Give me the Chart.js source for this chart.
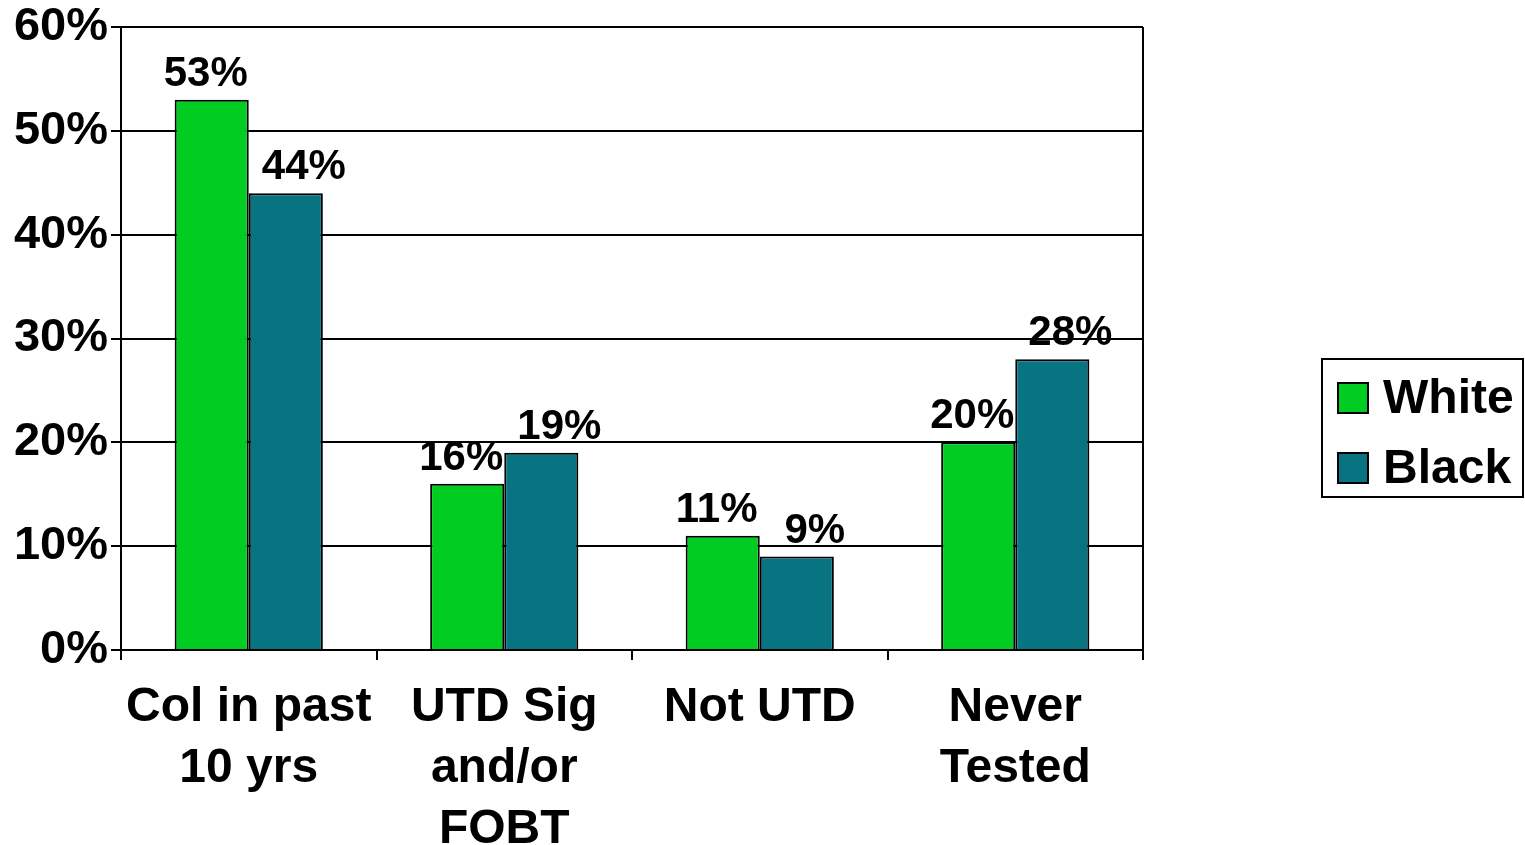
<!DOCTYPE html>
<html>
<head>
<meta charset="utf-8">
<script src="https://cdn.jsdelivr.net/npm/chart.js@4"></script>
<style>
  body { margin: 0; background: #fff; }
  canvas { display: block; }
</style>
</head>
<body>
<canvas id="myChart" width="1525" height="845"></canvas>
<script>
var categories = [["Col in past", "10 yrs"], ["UTD Sig", "and/or", "FOBT"], ["Not UTD"], ["Never", "Tested"]];
var seriesNames = ["White", "Black"];
var whiteValues = [53, 16, 11, 20];
var blackValues = [44, 19, 9, 28];
var seriesColors = ["#00CC22", "#087482"];

var FONT = "'Liberation Sans', Arial, sans-serif";

// value labels above each bar, nudged apart like the original
var labelShift = [-6, 18];
var valueLabels = {
    id: 'valueLabels',
    afterDatasetsDraw: function(chart) {
        var ctx = chart.ctx;
        ctx.save();
        ctx.fillStyle = '#000';
        ctx.font = 'bold 42px ' + FONT;
        ctx.textAlign = 'center';
        ctx.textBaseline = 'alphabetic';
        chart.data.datasets.forEach(function(ds, i) {
            chart.getDatasetMeta(i).data.forEach(function(bar, j) {
                ctx.fillText(ds.data[j] + '%', bar.x + labelShift[i], bar.y - 14);
            });
        });
        ctx.restore();
    }
};

// right frame line + boxed legend on the right
var frameAndLegend = {
    id: 'frameAndLegend',
    afterDraw: function(chart) {
        var ctx = chart.ctx;
        var area = chart.chartArea;
        ctx.save();
        ctx.strokeStyle = '#000';
        ctx.lineWidth = 2;
        ctx.beginPath();
        ctx.moveTo(area.right, area.top);
        ctx.lineTo(area.right, area.bottom + 10);
        ctx.stroke();

        ctx.strokeRect(1322, 359, 201, 138);
        ctx.font = 'bold 48px ' + FONT;
        ctx.textBaseline = 'middle';
        ctx.textAlign = 'left';
        seriesNames.forEach(function(name, i) {
            var y = 383 + i * 70;
            ctx.fillStyle = seriesColors[i];
            ctx.fillRect(1338, y, 30, 30);
            ctx.strokeRect(1338, y, 30, 30);
            ctx.fillStyle = '#000';
            ctx.fillText(name, 1383, y + 17);
        });
        ctx.restore();
    }
};

var ctx = document.getElementById('myChart').getContext('2d');
var chart = new Chart(ctx, {
    type: 'bar',
    data: {
        labels: categories,
        datasets: [{
            label: seriesNames[0],
            data: whiteValues,
            backgroundColor: seriesColors[0],
            borderColor: '#000',
            borderWidth: 2
        }, {
            label: seriesNames[1],
            data: blackValues,
            backgroundColor: seriesColors[1],
            borderColor: '#000',
            borderWidth: 2
        }]
    },
    options: {
        responsive: false,
        animation: false,
        layout: { padding: { top: 27, right: 382, left: 0, bottom: 0 } },
        plugins: {
            legend: { display: false },
            tooltip: { enabled: false }
        },
        datasets: {
            bar: { categoryPercentage: 0.58, barPercentage: 1.0 }
        },
        scales: {
            x: {
                grid: { drawOnChartArea: false, drawTicks: true, tickLength: 10, color: '#000', lineWidth: 2, offset: true },
                border: { color: '#000', width: 2 },
                ticks: {
                    color: '#000',
                    padding: 17,
                    maxRotation: 0,
                    font: { family: FONT, size: 48, weight: 'bold', lineHeight: 1.27 }
                },
                afterFit: function(scale) { scale.height = 195; }
            },
            y: {
                min: 0,
                max: 60,
                grid: { color: '#000', lineWidth: 2, tickLength: 10 },
                border: { color: '#000', width: 2 },
                ticks: {
                    stepSize: 10,
                    color: '#000',
                    padding: 3,
                    font: { family: FONT, size: 47, weight: 'bold', lineHeight: 1 },
                    callback: function(v) { return v + '%'; }
                },
                afterFit: function(scale) { scale.width = 121; }
            }
        }
    },
    plugins: [valueLabels, frameAndLegend]
});
</script>
</body>
</html>
